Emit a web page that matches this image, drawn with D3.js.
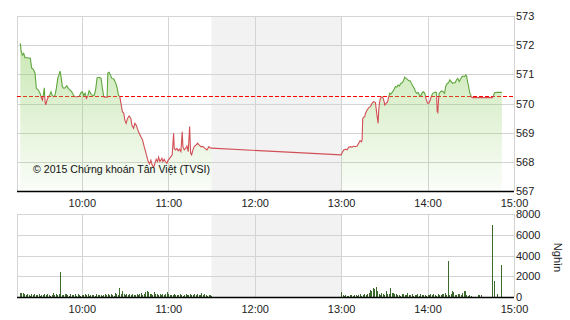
<!DOCTYPE html>
<html><head><meta charset="utf-8">
<script src="https://cdn.jsdelivr.net/npm/d3@7"></script>
<style>
html,body{margin:0;padding:0;background:#fff;}
svg{display:block;font-family:"Liberation Sans",Arial,sans-serif;}
</style></head><body>
<svg id="c" width="570" height="320"></svg>
<script>
// ---------- DATA ----------
const referencePrice = 570.25;
const priceTicks = [567, 568, 569, 570, 571, 572, 573];
const volumeTicks = [0, 2000, 4000, 6000, 8000];
const hourTicks = ["10:00", "11:00", "12:00", "13:00", "14:00", "15:00"];
const sessionStart = "9:15", sessionEnd = "15:00";
const lunchStart = "11:30", lunchEnd = "13:00";
const volumeUnit = "Nghìn";
const copyright = "© 2015 Chứng khoán Tân Việt (TVSI)";

const morningTimes = ["9:17:17","9:17:47","9:18:41","9:19:39","9:20:34","9:22:26","9:24:14","9:25:13","9:26:20","9:27:31",
"9:28:25","9:29:48","9:30:59","9:31:41","9:32:35","9:33:17","9:33:58","9:34:28","9:34:57","9:35:51",
"9:36:45","9:37:44","9:38:38","9:39:32","9:40:31","9:41:25","9:42:19","9:43:17","9:44:11","9:44:53",
"9:45:35","9:46:29","9:47:28","9:48:22","9:49:32","9:50:39","9:51:50","9:53:01","9:54:08","9:55:19",
"9:56:42","9:58:05","9:59:29","10:00:23","10:01:22","10:02:16","10:03:10","10:04:08","10:05:02","10:06:26",
"10:07:49","10:08:43","10:09:42","10:10:36","10:11:59","10:13:23","10:14:17","10:15:15","10:16:10","10:17:33",
"10:18:02","10:18:56","10:19:50","10:20:49","10:22:12","10:23:36","10:24:30","10:25:24","10:26:23","10:27:17",
"10:28:11","10:29:10","10:29:52","10:30:46","10:31:45","10:32:51","10:34:02","10:34:44","10:35:55","10:36:49",
"10:37:43","10:38:41","10:39:48","10:40:59","10:42:10","10:43:17","10:44:15","10:45:10","10:46:04","10:47:02",
"10:47:56","10:48:50","10:49:49","10:50:43","10:51:37","10:52:35","10:53:17","10:54:11","10:54:53","10:55:35",
"10:56:17","10:57:11","10:57:52","10:59:04","10:59:58","11:00:56","11:01:50","11:02:44","11:03:43","11:04:08",
"11:05:06","11:06:01","11:06:55","11:07:53","11:08:47","11:09:41","11:10:11","11:11:05","11:12:04","11:12:58",
"11:13:52","11:14:50","11:15:32","11:16:13","11:17:08","11:18:02","11:19:25","11:20:23","11:21:18","11:22:41",
"11:24:05","11:25:28","11:26:52","11:28:15","11:29:38","11:30:00"];
const morningPrices = [572.06,571.83,571.66,571.72,571.57,571.57,571.55,571.21,571.17,571.04,
570.52,570.46,570.35,570.23,570.12,570.29,570.54,570.06,569.95,570.12,
570.23,570.29,570.40,570.27,570.23,570.29,570.52,570.86,571.00,571.11,
570.92,570.58,570.52,570.54,570.61,570.52,570.46,570.40,570.29,570.23,
570.23,570.24,570.38,570.40,570.27,570.35,570.18,570.26,570.43,570.32,
570.27,570.29,570.52,570.88,570.90,570.86,570.52,570.23,570.22,570.22,
571.04,571.07,570.98,570.86,570.84,570.69,570.54,570.29,570.23,569.97,
569.72,569.66,569.43,569.32,569.49,569.57,569.49,569.26,569.15,569.32,
569.26,569.12,568.98,568.86,568.75,568.52,568.35,568.18,568.01,567.93,
568.06,567.89,567.81,567.95,568.09,568.01,568.16,568.01,568.06,568.12,
568.01,568.09,568.01,567.95,568.06,568.12,568.18,568.24,568.98,568.46,
568.41,568.46,568.38,568.43,568.35,569.03,568.52,568.41,568.46,568.54,
568.35,569.21,568.29,568.24,568.41,568.52,568.58,568.64,568.58,568.52,
568.52,568.46,568.41,568.52,568.46,568.47];

const afternoonTimes = ["13:00:00","13:00:40","13:01:48","13:02:58","13:04:08","13:05:15","13:06:26","13:07:37","13:08:44","13:09:55",
"13:11:05","13:12:12","13:13:11","13:14:05","13:14:34","13:14:59","13:15:41","13:16:22","13:16:52","13:18:02",
"13:19:09","13:20:20","13:21:31","13:22:38","13:23:49","13:25:00","13:25:41","13:26:06","13:26:35","13:27:17",
"13:27:59","13:28:28","13:29:10","13:29:52","13:30:16","13:30:46","13:31:28","13:32:09","13:33:03","13:33:45",
"13:34:26","13:35:25","13:36:32","13:37:43","13:38:37","13:39:35","13:40:29","13:41:23","13:42:22","13:43:16",
"13:44:10","13:45:09","13:46:03","13:46:56","13:47:55","13:48:50","13:49:44","13:50:43","13:51:37","13:52:31",
"13:53:29","13:54:23","13:55:17","13:56:16","13:57:10","13:58:04","13:59:03","13:59:57","14:00:51","14:01:49",
"14:02:44","14:03:38","14:05:18","14:06:12","14:06:41","14:07:07","14:07:36","14:08:05","14:08:59","14:09:53",
"14:10:52","14:11:46","14:12:40","14:13:38","14:14:33","14:15:27","14:16:25","14:17:20","14:18:14","14:19:12",
"14:20:07","14:21:01","14:21:59","14:22:53","14:23:47","14:24:46","14:25:40","14:26:34","14:27:04","14:27:32",
"14:28:27","14:29:21","14:29:50","14:30:19","14:31:14","14:44:55","14:45:37","14:46:31","14:48:23","14:51:35"];
const afternoonPrices = [568.24,568.31,568.41,568.43,568.41,568.50,568.52,568.50,568.54,568.52,
568.54,568.64,568.73,568.69,568.75,569.49,569.53,569.55,569.66,569.78,
569.86,569.89,570.01,570.06,570.03,569.55,569.32,569.78,570.01,570.18,
570.21,570.23,570.18,570.06,569.95,569.97,570.03,570.04,570.23,570.35,
570.32,570.38,570.46,570.58,570.56,570.63,570.60,570.69,570.71,570.78,
570.90,570.86,570.83,570.78,570.78,570.69,570.60,570.52,570.40,570.35,
570.38,570.29,570.26,570.37,570.40,570.35,570.14,570.01,570.01,570.12,
570.26,570.35,570.39,570.37,569.72,569.69,570.12,570.35,570.40,570.43,
570.40,570.35,570.60,570.69,570.71,570.81,570.75,570.69,570.71,570.71,
570.81,570.86,570.75,570.83,570.92,570.94,570.92,570.98,570.94,570.81,
570.60,570.35,570.32,570.23,570.20,570.20,570.26,570.37,570.38,570.38];

// volume (thousand shares), one bar per minute
const volMorningStart = "9:17";
const volMorning = [350,420,380,300,150,250,200,120,300,180,
250,150,200,300,100,220,180,250,150,300,
200,120,180,350,200,250,150,320,2400,200,
150,250,300,180,120,280,200,150,300,100,
250,180,120,200,150,300,180,250,100,200,
150,220,120,250,200,180,150,100,220,280,
180,250,150,300,200,120,350,250,150,900,
250,600,300,150,250,200,300,180,250,200,
150,300,200,250,350,180,300,450,600,450,
300,250,200,450,300,250,180,300,150,250,
200,300,520,250,150,200,180,250,150,200,
150,250,200,100,180,250,150,220,300,150,
200,250,150,300,180,200,350,150,250,200,120,180,150,100];
const volAfternoonStart = "13:00";
const volAfternoon = [520,
150,100,200,120,100,150,180,100,150,200,
120,150,250,100,200,300,150,250,400,700,550,900,750,1000,600,300,150,400,250,200,
550,300,250,900,350,400,300,250,150,200,
100,250,300,150,200,350,200,150,250,100,
200,150,300,100,250,150,200,180,100,150,
200,250,150,300,180,100,250,200,150,300,
250,400,150,3500,200,300,600,450,200,150,
250,300,150,400,550,600,200,100,150,80];
const volLateTimes = ["14:35","14:36","14:37","14:45","14:46","14:48","14:51"];
const volLate = [200,150,200,6940,1500,300,3100];

// ---------- DRAW ----------
const svg = d3.select("#c");
const L = 17, R = 514, T1 = 16, B1 = 191, T2 = 214, B2 = 297;
const base = (h, m, s) => new Date(2015, 0, 5, h, m, s || 0);
const parse = str => { const p = str.split(":").map(Number); return base(p[0], p[1], p[2]); };
const addMin = (str, i) => { const d = parse(str); return new Date(d.getTime() + i * 60000); };

const x = d3.scaleTime().domain([parse(sessionStart), parse(sessionEnd)]).range([L, R]);
const yP = d3.scaleLinear().domain([d3.min(priceTicks), d3.max(priceTicks)]).range([B1, T1]);
const yV = d3.scaleLinear().domain([d3.min(volumeTicks), d3.max(volumeTicks)]).range([B2, T2]);

const morning = morningTimes.map((t, i) => ({ t: parse(t), v: morningPrices[i] }));
const afternoon = afternoonTimes.map((t, i) => ({ t: parse(t), v: afternoonPrices[i] }));
const allPrices = morning.concat(afternoon);

const vols = volMorning.map((v, i) => ({ t: addMin(volMorningStart, i), v }))
  .concat(volAfternoon.map((v, i) => ({ t: addMin(volAfternoonStart, i), v })))
  .concat(volLate.map((v, i) => ({ t: parse(volLateTimes[i]), v })));

const gridColor = "#d4d4d4";
const defs = svg.append("defs");
const grad = defs.append("linearGradient").attr("id", "fillGrad")
  .attr("gradientUnits", "userSpaceOnUse").attr("x1", 0).attr("x2", 0).attr("y1", T1).attr("y2", B1);
grad.append("stop").attr("offset", 0).attr("stop-color", "#8ccd5f").attr("stop-opacity", 0.55);
grad.append("stop").attr("offset", 1).attr("stop-color", "#8ccd5f").attr("stop-opacity", 0.04);
const yRef = yP(referencePrice);
defs.append("clipPath").attr("id", "clipUp").append("rect")
  .attr("x", L).attr("y", T1 - 5).attr("width", R - L).attr("height", yRef - T1 + 5);
defs.append("clipPath").attr("id", "clipDown").append("rect")
  .attr("x", L).attr("y", yRef).attr("width", R - L).attr("height", B1 - yRef + 5);

function panel(top, bottom, yScale, ticks, fmt, labelPad) {
  const g = svg.append("g");
  g.append("rect").attr("x", x(parse(lunchStart))).attr("y", top)
    .attr("width", x(parse(lunchEnd)) - x(parse(lunchStart))).attr("height", bottom - top)
    .attr("fill", "#f2f2f2");
  const ya = g.append("g").attr("transform", `translate(${R},0)`)
    .call(d3.axisRight(yScale).tickValues(ticks).tickSize(-(R - L)).tickPadding(2).tickFormat(fmt));
  ya.select(".domain").remove();
  ya.selectAll(".tick line").attr("stroke", gridColor).attr("shape-rendering", "crispEdges");
  ya.selectAll(".tick text").attr("fill", "#222").style("font-size", "11px").attr("font-family", null);
  const xa = g.append("g").attr("transform", `translate(0,${bottom})`)
    .call(d3.axisBottom(x).tickValues(hourTicks.map(parse)).tickSize(-(bottom - top))
      .tickPadding(labelPad).tickFormat(d3.timeFormat("%H:%M")));
  xa.select(".domain").remove();
  xa.selectAll(".tick line").attr("stroke", gridColor).attr("shape-rendering", "crispEdges");
  xa.selectAll(".tick text").attr("fill", "#222").style("font-size", "11px").attr("font-family", null);
  g.append("line").attr("x1", L + 0.5).attr("x2", L + 0.5).attr("y1", top).attr("y2", bottom)
    .attr("stroke", gridColor);
  return g;
}

// ---- top panel ----
panel(T1, B1, yP, priceTicks, d3.format("d"), 8);
const gt = svg.append("g");
gt.append("line").attr("x1", L).attr("x2", R).attr("y1", Math.round(yRef) + 0.5).attr("y2", Math.round(yRef) + 0.5)
  .attr("stroke", "#ff0000").attr("stroke-width", 1.2).attr("stroke-dasharray", "4,2");
const area = d3.area().x(d => x(d.t)).y0(B1).y1(d => yP(d.v));
[morning, afternoon].forEach(seg => gt.append("path").datum(seg).attr("d", area).attr("fill", "url(#fillGrad)"));
const line = d3.line().x(d => x(d.t)).y(d => yP(d.v));
gt.append("path").datum(allPrices).attr("d", line).attr("fill", "none")
  .attr("stroke", "#5ea63c").attr("stroke-width", 1.1).attr("clip-path", "url(#clipUp)");
gt.append("path").datum(allPrices).attr("d", line).attr("fill", "none")
  .attr("stroke", "#d24f55").attr("stroke-width", 1.1).attr("clip-path", "url(#clipDown)");
gt.append("line").attr("x1", L).attr("x2", R).attr("y1", B1 + 0.5).attr("y2", B1 + 0.5)
  .attr("stroke", "#000").attr("stroke-width", 1.5);
gt.append("text").attr("x", 33).attr("y", 173).attr("fill", "#111").style("font-size", "10.6px")
  .text(copyright);

// ---- bottom panel ----
panel(T2, B2, yV, volumeTicks, d3.format("d"), 8);
const gb = svg.append("g");
gb.selectAll("rect.bar").data(vols).join("rect").attr("class", "bar")
  .attr("x", d => Math.round(x(d.t))).attr("width", 1)
  .attr("y", d => yV(d.v)).attr("height", d => B2 - yV(d.v))
  .attr("fill", "#3b6a2c").attr("shape-rendering", "crispEdges");
gb.append("line").attr("x1", L).attr("x2", R).attr("y1", B2 + 0.5).attr("y2", B2 + 0.5)
  .attr("stroke", "#000").attr("stroke-width", 1.5);
gb.append("text").attr("transform", `translate(554,${(T2 + B2) / 2 + 2}) rotate(90)`)
  .attr("text-anchor", "middle").attr("fill", "#222").style("font-size", "11px").text(volumeUnit);
</script>
</body></html>
